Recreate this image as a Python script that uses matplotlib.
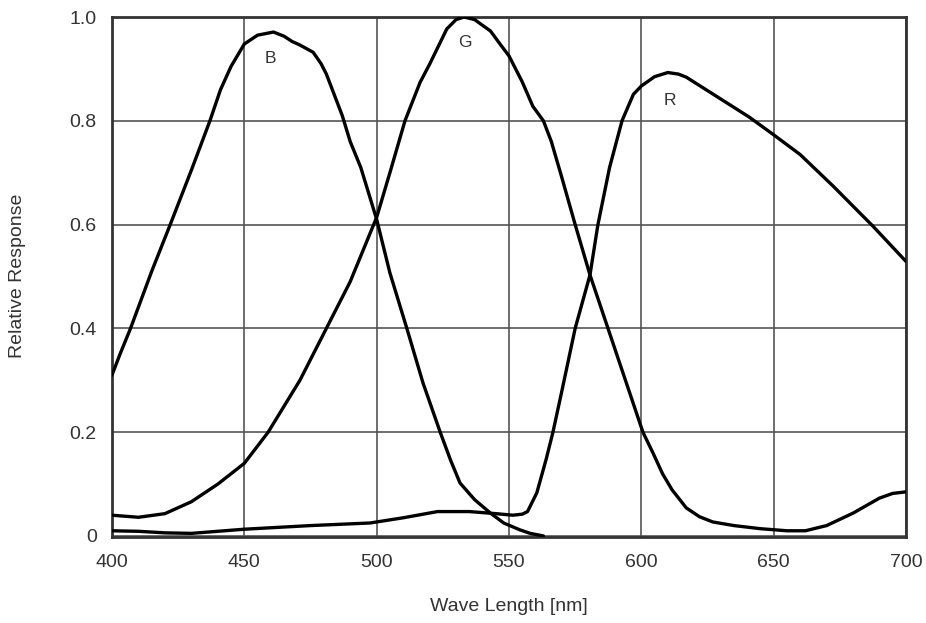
import matplotlib
matplotlib.use("Agg")
import matplotlib.pyplot as plt

# Blue channel
b_nm = [400, 403, 407, 415, 422, 430, 437, 441, 445, 450, 455, 461, 465, 468, 471, 476, 479, 481, 484, 487, 490, 494, 500,
        505, 511.4, 517.5, 524, 528, 531.5, 537, 543, 548, 554, 558, 563]
b_val = [0.31, 0.35, 0.40, 0.51, 0.60, 0.705, 0.80, 0.86, 0.905, 0.948, 0.965, 0.971, 0.963, 0.953, 0.946, 0.932, 0.91, 0.89, 0.85, 0.81, 0.76, 0.71, 0.61,
         0.507, 0.40, 0.295, 0.20, 0.145, 0.102, 0.07, 0.044, 0.025, 0.012, 0.005, 0.0]

# Green channel
g_nm = [400, 410, 420, 430, 440, 450, 459, 465, 471, 476, 481, 490, 500, 505, 510.7, 516.4, 520, 526.5, 530, 533, 537, 543, 546.6, 550,
        555, 559, 563, 566, 570, 575, 580.6, 587.4, 594, 600.6, 604.4, 608, 611.6, 617, 622, 627, 635, 645, 655, 662, 670, 680, 690, 695, 700]
g_val = [0.04, 0.036, 0.043, 0.066, 0.10, 0.14, 0.20, 0.25, 0.30, 0.35, 0.40, 0.49, 0.614, 0.70, 0.80, 0.874, 0.909, 0.977, 0.995, 1.0, 0.995, 0.973, 0.948, 0.925,
         0.875, 0.828, 0.80, 0.76, 0.69, 0.60, 0.503, 0.40, 0.30, 0.20, 0.16, 0.12, 0.089, 0.054, 0.037, 0.027, 0.02, 0.014, 0.01, 0.01, 0.02, 0.044, 0.073, 0.082, 0.085]

# Red channel
r_nm = [400, 410, 420, 430, 450, 475, 497.5, 510, 523, 535, 545, 551.5, 555, 557, 560.5, 564, 566.6, 570, 575, 580.6, 583.6, 588, 592.7, 597, 600,
        605, 610, 614, 617, 630, 640.8, 650, 660, 672.5, 687.5, 700]
r_val = [0.01, 0.009, 0.006, 0.005, 0.013, 0.02, 0.025, 0.035, 0.047, 0.047, 0.043, 0.04, 0.042, 0.047, 0.083, 0.147, 0.20, 0.28, 0.40, 0.503, 0.60, 0.71, 0.80, 0.851, 0.867,
         0.885, 0.893, 0.89, 0.884, 0.842, 0.807, 0.773, 0.735, 0.674, 0.597, 0.529]

channel_labels = ["B", "G", "R"]
label_nm = [460.0, 533.4, 610.8]
label_val = [0.92, 0.95, 0.84]

x_ticks = [400, 450, 500, 550, 600, 650, 700]
y_ticks = [0, 0.2, 0.4, 0.6, 0.8, 1.0]
y_tick_labels = ["0", "0.2", "0.4", "0.6", "0.8", "1.0"]

plt.rcParams['font.family'] = ['Liberation Sans', 'DejaVu Sans']

W, H = 926, 623
fig = plt.figure(figsize=(W / 100, H / 100), dpi=100)
ax = fig.add_axes([112 / W, 1 - 537 / H, 794 / W, 520 / H])

for xs, ys in [(b_nm, b_val), (g_nm, g_val), (r_nm, r_val)]:
    ax.plot(xs, ys, color='black', lw=2.4, solid_joinstyle='round', solid_capstyle='round', zorder=3)

for lab, lx, ly in zip(channel_labels, label_nm, label_val):
    ax.text(lx, ly, lab, ha='center', va='center', fontsize=12.5, color='#333333', zorder=4)

ax.set_xlim(400, 700)
ax.set_ylim(-0.002, 1.0)
ax.set_xticks(x_ticks)
ax.set_yticks(y_ticks)
ax.set_yticklabels(y_tick_labels)
ax.tick_params(length=0, labelsize=14, colors='#333333')
ax.tick_params(axis='x', pad=12)
ax.tick_params(axis='y', pad=11)
ax.grid(True, color='#555555', lw=1.2)
ax.set_axisbelow(True)
for s in ax.spines.values():
    s.set_color('#333333')
    s.set_linewidth(2)

ax.set_xlabel("Wave Length [nm]", fontsize=14, color='#333333')
ax.xaxis.set_label_coords(0.5, -(598 - 537) / 520)
fig.text(18 / W, 1 - 276 / H, "Relative Response", rotation=90, ha='center', va='center',
         fontsize=14, color='#333333')

fig.savefig("out.png", dpi=100)
